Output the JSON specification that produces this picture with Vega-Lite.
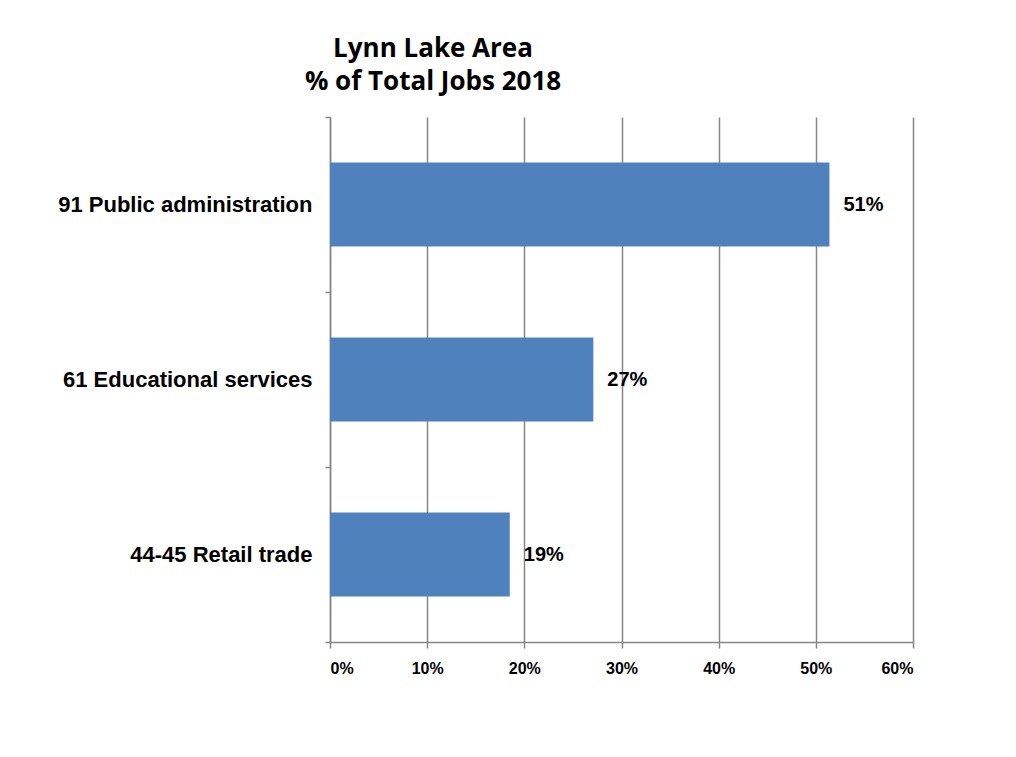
{
  "$schema": "https://vega.github.io/schema/vega-lite/v6.json",
  "autosize": {"type": "none"},
  "width": 583,
  "height": 525,
  "padding": {"left": 330, "top": 117, "right": 103, "bottom": 115},
  "background": "white",
  "title": {
    "text": ["Lynn Lake Area", "% of Total Jobs 2018"],
    "anchor": "start",
    "align": "center",
    "frame": "group",
    "dx": 103,
    "dy": 37,
    "offset": 27,
    "font": "Open Sans",
    "fontSize": 26,
    "fontWeight": "bold",
    "color": "#000000",
    "lineHeight": 33,
    "baseline": "alphabetic"
  },
  "data": {
    "values": [
      {"industry": "91 Public administration", "share": 0.514, "label": "51%"},
      {"industry": "61 Educational services", "share": 0.271, "label": "27%"},
      {"industry": "44-45 Retail trade", "share": 0.185, "label": "19%"}
    ]
  },
  "encoding": {
    "y": {
      "field": "industry",
      "type": "nominal",
      "sort": null,
      "title": null,
      "scale": {"paddingInner": 0, "paddingOuter": 0},
      "axis": {
        "tickBand": "extent",
        "grid": false,
        "domainColor": "#868686",
        "domainWidth": 1.5,
        "tickColor": "#868686",
        "tickWidth": 1.5,
        "tickSize": 5,
        "labelFont": "Liberation Sans",
        "labelFontSize": 22,
        "labelFontWeight": "bold",
        "labelColor": "#000000",
        "labelPadding": 13,
        "labelLimit": 400
      }
    },
    "x": {
      "field": "share",
      "type": "quantitative",
      "title": null,
      "scale": {"domain": [0, 0.6], "nice": false},
      "axis": {
        "format": ".0%",
        "values": [0, 0.1, 0.2, 0.3, 0.4, 0.5, 0.6],
        "grid": true,
        "gridColor": "#868686",
        "gridWidth": 1.5,
        "domainColor": "#868686",
        "domainWidth": 1.5,
        "tickColor": "#868686",
        "tickWidth": 1.5,
        "tickSize": 6,
        "labelFont": "Liberation Sans",
        "labelFontSize": 16,
        "labelFontWeight": "bold",
        "labelColor": "#000000",
        "labelPadding": 12
      }
    }
  },
  "layer": [
    {"mark": {"type": "bar", "color": "#4F81BD", "height": {"band": 0.48}}},
    {
      "mark": {
        "type": "text",
        "align": "left",
        "dx": 14,
        "font": "Liberation Sans",
        "fontSize": 20,
        "fontWeight": "bold",
        "color": "#000000"
      },
      "encoding": {"text": {"field": "label"}}
    }
  ],
  "config": {"view": {"stroke": null}}
}
